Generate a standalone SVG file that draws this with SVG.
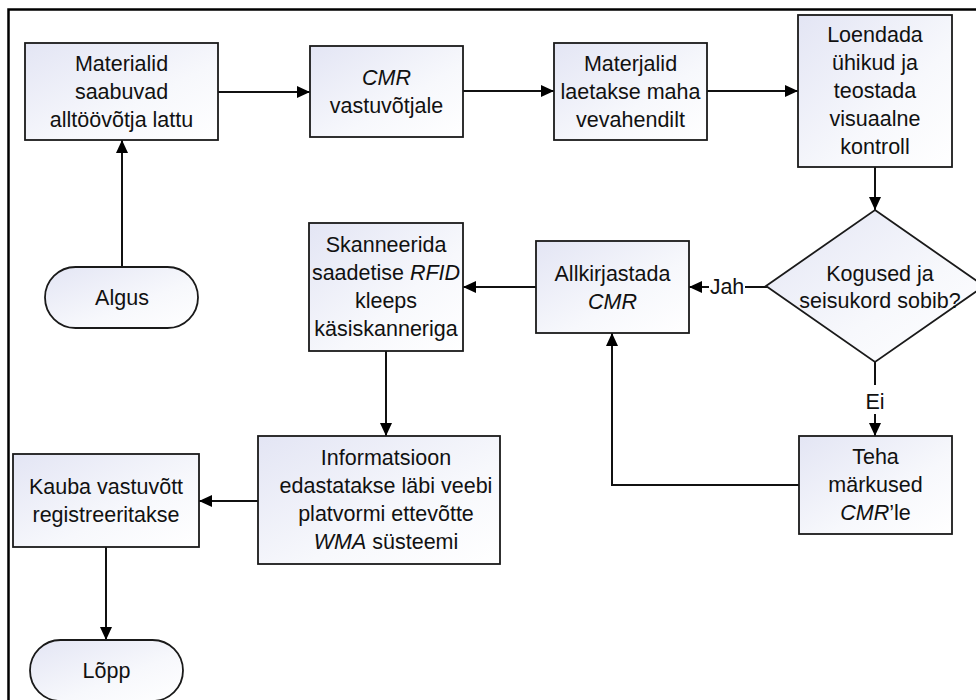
<svg xmlns="http://www.w3.org/2000/svg" width="976" height="700" viewBox="0 0 976 700">
  <style>
    .shape { fill: url(#fillGrad); stroke: #1a1a1a; stroke-width: 1.8; }
    .label { font-family: "Liberation Sans", Arial, sans-serif; font-size: 21.5px; fill: #111; text-anchor: middle; }
    .conn { fill: none; stroke: #111; stroke-width: 2; }
    .it { font-style: italic; }
    .frame { fill: none; stroke: #000; stroke-width: 2.5; }
  </style>
  <defs>
    <linearGradient id="fillGrad" x1="0" y1="0" x2="1" y2="1">
      <stop offset="0" stop-color="#e3e5f4"/>
      <stop offset="0.6" stop-color="#f7f8fc"/>
      <stop offset="1" stop-color="#ffffff"/>
    </linearGradient>
    <marker id="arrow" viewBox="0 0 13 12" refX="13" refY="6" markerWidth="13" markerHeight="12" markerUnits="userSpaceOnUse" orient="auto">
      <path d="M0,0 L13,6 L0,12 Z" fill="#000"/>
    </marker>
  </defs>

  <rect width="976" height="700" fill="#fff"/>
  <!-- outer frame -->
  <path class="frame" d="M8.5,700 L8.5,9.5 L976,9.5"/>

  <!-- connectors -->
  <g id="connectors">
    <path class="conn" d="M122,267 L122,140" marker-end="url(#arrow)"/>
    <path class="conn" d="M218,92 L310,92" marker-end="url(#arrow)"/>
    <path class="conn" d="M463,91 L554,91" marker-end="url(#arrow)"/>
    <path class="conn" d="M707,91 L798,91" marker-end="url(#arrow)"/>
    <path class="conn" d="M875,167 L875,210" marker-end="url(#arrow)"/>
    <path class="conn" d="M768,287 L745,287"/>
    <path class="conn" d="M709,287 L689,287" marker-end="url(#arrow)"/>
    <text class="label" x="727" y="294">Jah</text>
    <path class="conn" d="M875,362 L875,385"/>
    <path class="conn" d="M875,414 L875,436" marker-end="url(#arrow)"/>
    <text class="label" x="875" y="409">Ei</text>
    <path class="conn" d="M799,485 L612,485 L612,333" marker-end="url(#arrow)"/>
    <path class="conn" d="M536,287 L463,287" marker-end="url(#arrow)"/>
    <path class="conn" d="M386,351 L386,436" marker-end="url(#arrow)"/>
    <path class="conn" d="M258,501 L199,501" marker-end="url(#arrow)"/>
    <path class="conn" d="M106,547 L106,640" marker-end="url(#arrow)"/>
  </g>

  <g id="algus">
    <rect class="shape" x="45" y="267" width="153" height="61" rx="30.5" ry="30.5"/>
    <text class="label" x="122" y="305">Algus</text>
  </g>

  <g id="materialid-saabuvad">
    <rect class="shape" x="25" y="43" width="193" height="97"/>
    <text class="label" x="121.5" y="70.5">Materialid</text>
    <text class="label" x="121.5" y="98.5">saabuvad</text>
    <text class="label" x="121.5" y="126.5">alltöövõtja lattu</text>
  </g>

  <g id="cmr-vastuvotjale">
    <rect class="shape" x="310" y="46" width="153" height="91"/>
    <text class="label it" x="386.5" y="84.5">CMR</text>
    <text class="label" x="386.5" y="112.5">vastuvõtjale</text>
  </g>

  <g id="materjalid-laetakse">
    <rect class="shape" x="554" y="43" width="153" height="97"/>
    <text class="label" x="630.5" y="70.5">Materjalid</text>
    <text class="label" x="630.5" y="98.5">laetakse maha</text>
    <text class="label" x="630.5" y="126.5">vevahendilt</text>
  </g>

  <g id="loendada">
    <rect class="shape" x="798" y="15" width="154" height="152"/>
    <text class="label" x="875" y="42">Loendada</text>
    <text class="label" x="875" y="70">ühikud ja</text>
    <text class="label" x="875" y="98">teostada</text>
    <text class="label" x="875" y="126">visuaalne</text>
    <text class="label" x="875" y="154">kontroll</text>
  </g>

  <g id="kogused-otsus">
    <path class="shape" d="M875,210 L984,286 L875,362 L766,286 Z"/>
    <text class="label" x="880" y="281">Kogused ja</text>
    <text class="label" x="880" y="308">seisukord sobib?</text>
  </g>

  <g id="allkirjastada">
    <rect class="shape" x="536" y="241" width="153" height="92"/>
    <text class="label" x="612.5" y="281">Allkirjastada</text>
    <text class="label it" x="612.5" y="309">CMR</text>
  </g>

  <g id="skanneerida">
    <rect class="shape" x="309" y="223" width="154" height="128"/>
    <text class="label" x="386" y="252">Skanneerida</text>
    <text class="label" x="386" y="280">saadetise <tspan class="it">RFID</tspan></text>
    <text class="label" x="386" y="308">kleeps</text>
    <text class="label" x="386" y="336">käsiskanneriga</text>
  </g>

  <g id="teha-markused">
    <rect class="shape" x="799" y="436" width="153" height="98"/>
    <text class="label" x="875.5" y="464">Teha</text>
    <text class="label" x="875.5" y="492">märkused</text>
    <text class="label" x="875.5" y="520"><tspan class="it">CMR</tspan>’le</text>
  </g>

  <g id="informatsioon">
    <rect class="shape" x="258" y="436" width="242" height="128"/>
    <text class="label" x="386" y="465">Informatsioon</text>
    <text class="label" x="386" y="493">edastatakse läbi veebi</text>
    <text class="label" x="386" y="521">platvormi ettevõtte</text>
    <text class="label" x="386" y="549"><tspan class="it">WMA</tspan> süsteemi</text>
  </g>

  <g id="kauba-vastuvott">
    <rect class="shape" x="13" y="454" width="186" height="93"/>
    <text class="label" x="106" y="494">Kauba vastuvõtt</text>
    <text class="label" x="106" y="522">registreeritakse</text>
  </g>

  <g id="lopp">
    <rect class="shape" x="30" y="640" width="153" height="61" rx="30.5" ry="30.5"/>
    <text class="label" x="106.5" y="678">Lõpp</text>
  </g>
</svg>
